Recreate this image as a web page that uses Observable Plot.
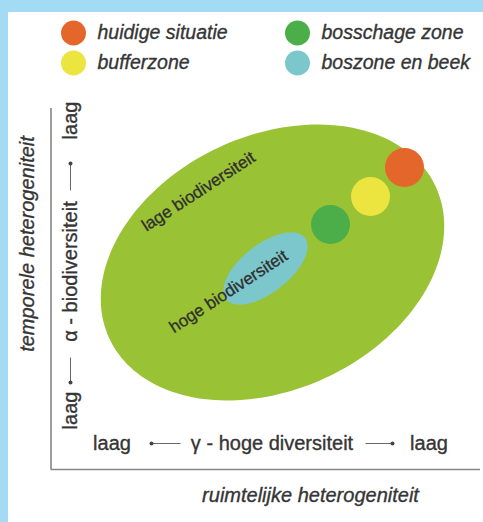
<!DOCTYPE html>
<html>
<head>
<meta charset="utf-8">
<script src="https://cdn.jsdelivr.net/npm/d3@7"></script>
<script src="https://cdn.jsdelivr.net/npm/@observablehq/plot@0.6"></script>
<style>
  html, body { margin: 0; padding: 0; background: #a4dbf4; width: 483px; height: 522px; overflow: hidden; }
  #panel { position: absolute; left: 8px; top: 12px; width: 475px; height: 510px; background: #ffffff; }
  svg { font-family: "Liberation Sans", Arial, sans-serif; }
</style>
</head>
<body>
<div id="panel"></div>
<script>
// Conceptual diagram data (x = ruimtelijke heterogeniteit, y = temporele heterogeniteit)
const legendLabels = ["huidige situatie", "bufferzone", "bosschage zone", "boszone en beek"];
const legendColors = ["#e5662b", "#ece43f", "#4cae48", "#7cc7cc"];
const legendX = [22.5, 22.5, 246.5, 246.5];
const legendY = [436.5, 406.5, 436.5, 406.5];

// ellipses: centre, semi-axes, rotation (deg)
const zoneNames = ["lage biodiversiteit", "hoge biodiversiteit"];
const zoneCX = [221.5, 214.5];
const zoneCY = [207, 201];
const zoneA = [180, 50];
const zoneB = [127, 24];
const zoneAngle = [25, 38];
const zoneColors = ["#9ac235", "#7cc7cc"];

// situations (circles)
const spotNames = ["huidige situatie", "bufferzone", "bosschage zone"];
const spotX = [353.5, 319.5, 279.5];
const spotY = [302, 273, 245];
const spotColors = ["#e5662b", "#ece43f", "#4cae48"];

// labels inside the ellipses
const zoneLabelX = [147.5, 177.5];
const zoneLabelY = [278, 178];

function ellipse(i) {
  const pts = [];
  const th = zoneAngle[i] * Math.PI / 180;
  for (let k = 0; k < 180; k++) {
    const t = k / 180 * 2 * Math.PI;
    const u = zoneA[i] * Math.cos(t), v = zoneB[i] * Math.sin(t);
    pts.push({x: zoneCX[i] + u * Math.cos(th) - v * Math.sin(th),
              y: zoneCY[i] + u * Math.sin(th) + v * Math.cos(th), zone: zoneNames[i]});
  }
  return pts;
}

const legend = legendLabels.map((l, i) => ({label: l, color: legendColors[i], x: legendX[i], y: legendY[i]}));
const spots = spotNames.map((n, i) => ({name: n, x: spotX[i], y: spotY[i], color: spotColors[i]}));
const zoneLabels = zoneNames.map((n, i) => ({name: n, x: zoneLabelX[i], y: zoneLabelY[i]}));

const axisColor = "#858585";
const txt = "#353535";
const heavy = {fill: txt, stroke: txt, strokeWidth: 0.35};

const chart = Plot.plot({
  width: 475,
  height: 510,
  x: {domain: [0, 429.5], range: [42.5, 472], axis: null},
  y: {domain: [0, 361], range: [457, 96], axis: null},
  style: {background: "transparent", fontFamily: "'Liberation Sans', Arial, sans-serif"},
  marks: [
    // legend
    Plot.dot(legend, {x: "x", y: "y", r: 12.5, fill: "color", stroke: null}),
    Plot.text(legend, {x: d => d.x + 24, y: "y", text: "label", textAnchor: "start", fontSize: 19.5, fontStyle: "italic", ...heavy}),
    // ellipses
    Plot.line(ellipse(0), {x: "x", y: "y", curve: "linear-closed", fill: zoneColors[0], stroke: "none"}),
    Plot.line(ellipse(1), {x: "x", y: "y", curve: "linear-closed", fill: zoneColors[1], stroke: "none"}),
    // circles
    Plot.dot(spots, {x: "x", y: "y", r: 19.5, fill: "color", stroke: null}),
    // labels inside
    Plot.text(zoneLabels, {x: "x", y: "y", text: "name", rotate: -33, fontSize: 17, fill: "#2e2e2e", stroke: "#2e2e2e", strokeWidth: 0.3}),
    // axes
    Plot.ruleX([0], {y1: 0, y2: 361, stroke: axisColor, strokeWidth: 1.6}),
    Plot.ruleY([0], {x1: 0, x2: 429.5, stroke: axisColor, strokeWidth: 1.6}),
    // horizontal axis annotation
    Plot.text([{x: 61, y: 26, t: "laag"}, {x: 221, y: 26, t: "γ - hoge diversiteit"}, {x: 378, y: 26, t: "laag"}],
      {x: "x", y: "y", text: "t", fontSize: 20, ...heavy}),
    Plot.link([{x1: 129.5, x2: 99.5, y: 26}, {x1: 314.5, x2: 342.5, y: 26}],
      {x1: "x1", x2: "x2", y1: "y", y2: "y", stroke: "#666", strokeWidth: 1}),
    Plot.dot([{x: 100.5, y: 26}, {x: 341.5, y: 26}], {x: "x", y: "y", r: 2, fill: "#444", stroke: null}),
    Plot.text([{x: 259.5, y: -26, t: "ruimtelijke heterogeniteit"}],
      {x: "x", y: "y", text: "t", fontSize: 20, fontStyle: "italic", ...heavy}),
    // vertical axis annotation
    Plot.text([{x: 19.5, y: 349, t: "laag"}, {x: 19.5, y: 198, t: "α - biodiversiteit"}, {x: 19.5, y: 59, t: "laag"}],
      {x: "x", y: "y", text: "t", rotate: -90, fontSize: 20, ...heavy}),
    Plot.link([{x: 19.5, y1: 279, y2: 307}, {x: 19.5, y1: 112, y2: 86}],
      {x1: "x", x2: "x", y1: "y1", y2: "y2", stroke: "#666", strokeWidth: 1}),
    Plot.dot([{x: 19.5, y: 306}, {x: 19.5, y: 87}], {x: "x", y: "y", r: 2, fill: "#444", stroke: null}),
    Plot.text([{x: -23.5, y: 225.5, t: "temporele heterogeniteit"}],
      {x: "x", y: "y", text: "t", rotate: -90, fontSize: 20, fontStyle: "italic", ...heavy})
  ]
});
document.getElementById("panel").appendChild(chart);
</script>
</body>
</html>
